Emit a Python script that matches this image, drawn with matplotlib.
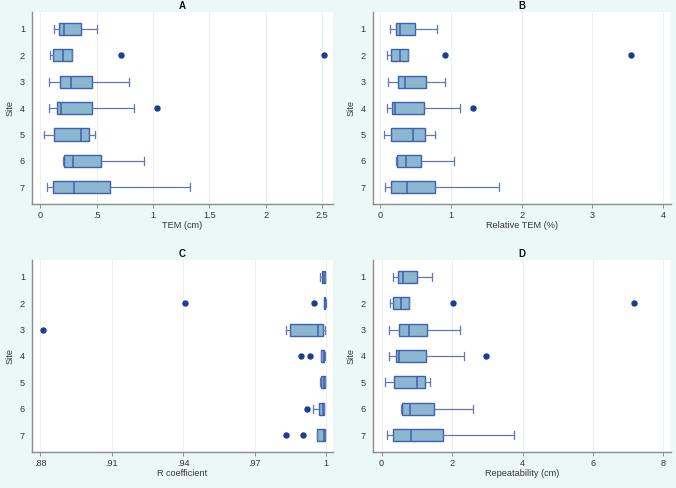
import matplotlib.pyplot as plt

plt.rcParams['font.family'] = ['Liberation Sans', 'DejaVu Sans']

sites = [1, 2, 3, 4, 5, 6, 7]

# TEM (cm): whisker low, Q1, median, Q3, whisker high, outliers
tem_lo = [0.121, 0.086, 0.077, 0.077, 0.035, 0.204, 0.056]
tem_q1 = [0.168, 0.115, 0.174, 0.145, 0.124, 0.210, 0.115]
tem_med = [0.213, 0.204, 0.274, 0.186, 0.357, 0.292, 0.301]
tem_q3 = [0.360, 0.280, 0.460, 0.455, 0.434, 0.534, 0.620]
tem_hi = [0.499, 0.280, 0.788, 0.829, 0.481, 0.918, 1.325]
tem_out = [[], [0.717, 2.52], [], [1.039], [], [], []]

# Relative TEM (%)
rel_lo = [0.140, 0.094, 0.108, 0.094, 0.047, 0.225, 0.070]
rel_q1 = [0.229, 0.154, 0.257, 0.168, 0.154, 0.239, 0.145]
rel_med = [0.285, 0.285, 0.351, 0.210, 0.468, 0.365, 0.374]
rel_q3 = [0.491, 0.393, 0.646, 0.622, 0.636, 0.580, 0.777]
rel_hi = [0.800, 0.393, 0.912, 1.123, 0.767, 1.039, 1.684]
rel_out = [[], [0.912, 3.54], [], [1.305], [], [], []]

# R coefficient
r_lo = [0.9976, 0.9993, 0.9832, 0.9977, 0.9975, 0.9944, 0.9961]
r_q1 = [0.9983, 0.9993, 0.9849, 0.9977, 0.9977, 0.9969, 0.9961]
r_med = [0.9990, 0.9995, 0.9966, 0.9992, 0.9990, 0.9988, 0.9990]
r_q3 = [0.9994, 0.9997, 0.9986, 0.9993, 0.9994, 0.9991, 0.9994]
r_hi = [0.9995, 0.9998, 0.9994, 0.9994, 0.9995, 0.9993, 0.9995]
r_out = [[], [0.9408, 0.9947], [0.8811], [0.9896, 0.9933], [], [0.9919], [0.9833, 0.9902]]

# Repeatability (cm)
rep_lo = [0.329, 0.226, 0.197, 0.197, 0.103, 0.545, 0.150]
rep_q1 = [0.470, 0.320, 0.498, 0.404, 0.348, 0.583, 0.320]
rep_med = [0.600, 0.564, 0.789, 0.498, 1.006, 0.818, 0.846]
rep_q3 = [1.006, 0.780, 1.288, 1.269, 1.222, 1.494, 1.748]
rep_hi = [1.438, 0.780, 2.227, 2.340, 1.363, 2.594, 3.750]
rep_out = [[], [2.03, 7.16], [], [2.95], [], [], []]

panels = [
    ("A", "TEM (cm)", tem_lo, tem_q1, tem_med, tem_q3, tem_hi, tem_out,
     [0, 0.5, 1, 1.5, 2, 2.5], ["0", ".5", "1", "1.5", "2", "2.5"], (-0.074, 2.594)),
    ("B", "Relative TEM (%)", rel_lo, rel_q1, rel_med, rel_q3, rel_hi, rel_out,
     [0, 1, 2, 3, 4], ["0", "1", "2", "3", "4"], (-0.108, 4.11)),
    ("C", "R coefficient", r_lo, r_q1, r_med, r_q3, r_hi, r_out,
     [0.88, 0.91, 0.94, 0.97, 1.0], [".88", ".91", ".94", ".97", "1"], (0.8765, 1.0028)),
    ("D", "Repeatability (cm)", rep_lo, rep_q1, rep_med, rep_q3, rep_hi, rep_out,
     [0, 2, 4, 6, 8], ["0", "2", "4", "6", "8"], (-0.254, 8.21)),
]

bg = "#ebf8f5"
fill = "#8bb8d0"
edge = "#4060ad"
whisk = "#6376bb"
dot = "#1a3d99"
axis_gray = "#8c8c8c"

fig = plt.figure(figsize=(6.76, 4.88), dpi=100, facecolor=bg)
rects = [
    [0.0473, 0.582, 0.445, 0.393],
    [0.5513, 0.582, 0.441, 0.393],
    [0.0473, 0.074, 0.445, 0.393],
    [0.5513, 0.074, 0.441, 0.393],
]

for rect, (title, xlabel, lo, q1, med, q3, hi, out, ticks, labels, xlim) in zip(rects, panels):
    ax = fig.add_axes(rect)
    ax.set_facecolor("white")
    stats = []
    for i in range(len(sites)):
        stats.append({"whislo": lo[i], "q1": q1[i], "med": med[i], "q3": q3[i],
                      "whishi": hi[i], "fliers": out[i]})
    ax.bxp(stats, positions=sites, vert=False, widths=0.46, capwidths=0.3,
           patch_artist=True, showfliers=True,
           boxprops=dict(facecolor=fill, edgecolor=edge, linewidth=1.0),
           medianprops=dict(color=edge, linewidth=1.1),
           whiskerprops=dict(color=whisk, linewidth=0.9),
           capprops=dict(color=whisk, linewidth=0.9),
           flierprops=dict(marker="o", markerfacecolor=dot, markeredgecolor=dot,
                           markersize=3.6))
    ax.set_ylim(7.63, 0.37)
    ax.set_yticks(sites)
    ax.set_yticklabels([str(s) for s in sites])
    ax.set_xlim(*xlim)
    ax.set_xticks(ticks)
    ax.set_xticklabels(labels)
    ax.grid(axis="x", color="#e6f3f0", linewidth=0.7)
    ax.set_axisbelow(True)
    for side in ["top", "right"]:
        ax.spines[side].set_visible(False)
    for side in ["left", "bottom"]:
        ax.spines[side].set_color(axis_gray)
        ax.spines[side].set_linewidth(1.0)
    ax.tick_params(axis="x", colors=axis_gray, labelcolor="#333333",
                   labelsize=6.6, length=3, width=0.7, pad=2)
    ax.tick_params(axis="y", colors=axis_gray, labelcolor="#333333",
                   labelsize=6.6, length=0, pad=5)
    ax.set_xlabel(xlabel, fontsize=6.6, color="#333333", labelpad=1)
    ax.set_ylabel("Site", fontsize=6.6, color="#333333", labelpad=4)
    ax.set_title(title, fontsize=7, fontweight="bold", color="#111111", pad=2)

plt.savefig("out.png", dpi=100, facecolor=bg)
plt.close()
